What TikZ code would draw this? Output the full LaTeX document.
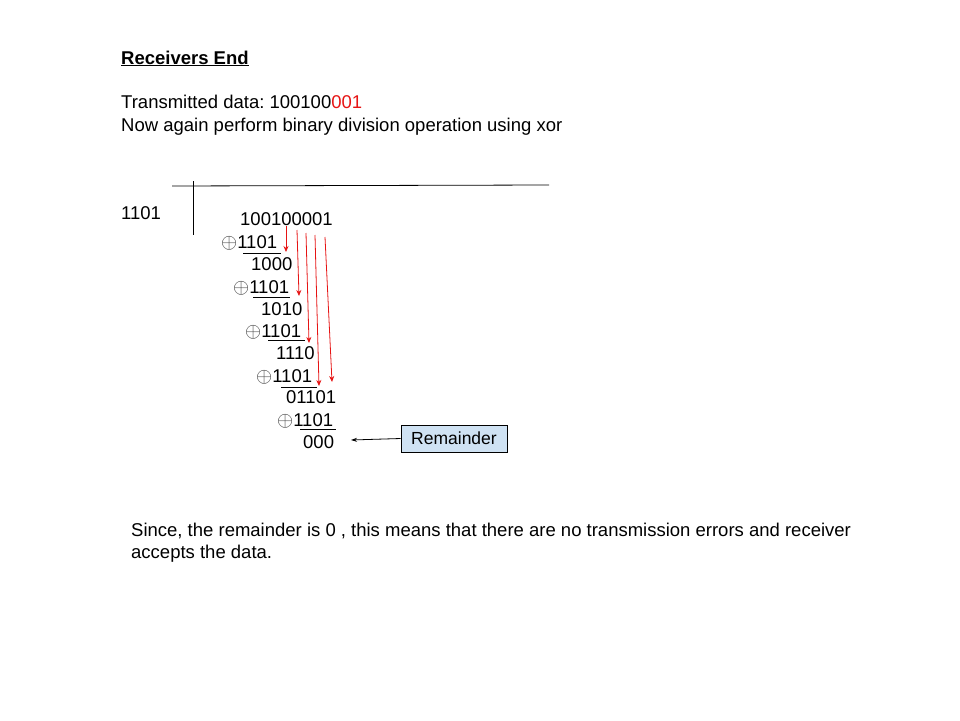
\documentclass[tikz,border=0pt]{standalone}
\usepackage{fontspec}
\usepackage{xcolor}
\setmainfont{Liberation Sans}
\usetikzlibrary{arrows.meta, positioning}
\definecolor{bitred}{RGB}{230,20,20}
\definecolor{remblue}{RGB}{207,226,243}
\newcommand{\xorsign}{\textcolor{black!75}{\scalebox{1.2}{$\oplus$}}}
\frenchspacing

\begin{document}
\begin{tikzpicture}[
    x=1pt, y=-1pt,
    txt/.style={anchor=base west, inner sep=0pt, font=\fontsize{18.5}{22}\selectfont},
    xorop/.style={txt},
    rule/.style={line width=0.8pt},
    carry/.style={draw=bitred, line width=0.8pt, -{Stealth[length=6pt, width=5pt]}},
    remarrow/.style={line width=0.8pt, -{Stealth[length=6pt, width=4pt]}},
    rembox/.style={draw, line width=0.8pt, fill=remblue, minimum width=106pt, minimum height=27pt, inner sep=0pt, font=\fontsize{17.5}{21}\selectfont}
]
    \useasboundingbox (0,0) rectangle (960,720);

    % heading
    \node[txt, font=\bfseries\fontsize{18.5}{22}\selectfont] (title) at (121,64) {\underline{Receivers End}};
    \node[txt] (data) at (121,108) {Transmitted data: 100100\textcolor{bitred}{001}};
    \node[txt] (again) at (121,131) {Now again perform binary division operation using xor};

    % division frame
    \draw[rule] (172,186) -- (549,185);
    \draw[rule] (193,181) -- (193,235);
    \node[txt] (divisor) at (121,219) {1101};

    % division rows
    \node[txt] (dividend) at (240,225) {100100001};
    \node[xorop] (x1) at (221,248) {\xorsign 1101};
    \draw[line width=0.7pt] (243,253) -- (281,253);
    \node[txt] (r1) at (251,270) {1000};
    \node[xorop] (x2) at (233,293) {\xorsign 1101};
    \draw[line width=0.7pt] (253,297) -- (290,297);
    \node[txt] (r2) at (261,315) {1010};
    \node[xorop] (x3) at (245,337) {\xorsign 1101};
    \draw[line width=0.7pt] (268,340) -- (305,340);
    \node[txt] (r3) at (276,359) {1110};
    \node[xorop] (x4) at (256,382) {\xorsign 1101};
    \draw[line width=0.7pt] (281,387) -- (317,387);
    \node[txt] (r4) at (286,403) {01101};
    \node[xorop] (x5) at (277,426) {\xorsign 1101};
    \draw[line width=0.7pt] (300,429) -- (336,429);
    \node[txt] (rem) at (303,448) {000};

    % bring-down arrows
    \draw[carry] (286,226) -- (286,252);
    \draw[carry] (297,230) -- (299,296);
    \draw[carry] (306,233) -- (309,343);
    \draw[carry] (315,235) -- (319,386);
    \draw[carry] (325,237) -- (332,382);

    % remainder label
    \node[rembox] (remlabel) at (454,438.5) {Remainder};
    \coordinate (remtip) at (351,440);
    \draw[remarrow] (remlabel.west) -- (remtip);

    % conclusion
    \node[txt] (since) at (131,536) {Since, the remainder is 0 , this means that there are no transmission errors and receiver};
    \node[txt] (accepts) at (131,558) {accepts the data.};
\end{tikzpicture}
\end{document}
